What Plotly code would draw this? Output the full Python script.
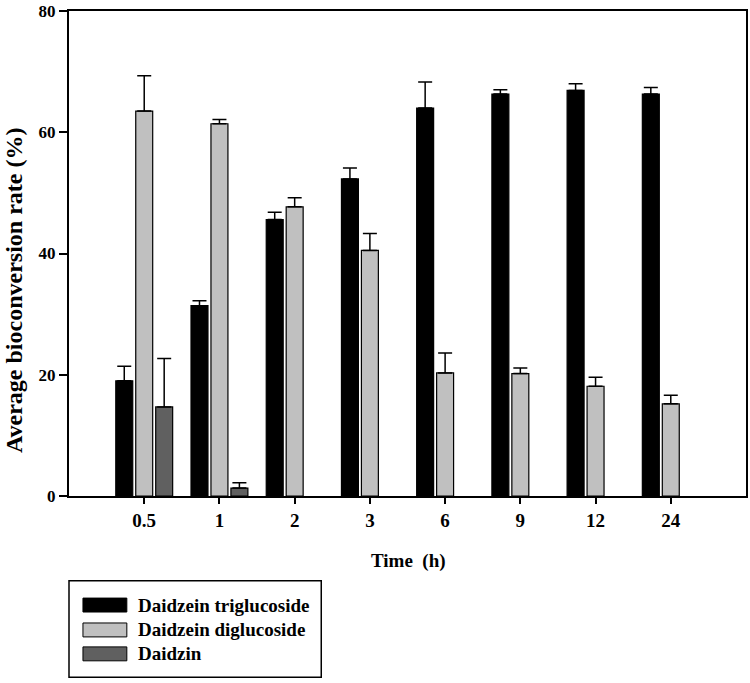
import plotly.graph_objects as go

# ---- data ----
times = ["0.5", "1", "2", "3", "6", "9", "12", "24"]
series_names = ["Daidzein triglucoside", "Daidzein diglucoside", "Daidzin"]
tri_vals = [19.0, 31.4, 45.6, 52.3, 64.0, 66.3, 66.9, 66.3]
tri_err = [2.4, 0.8, 1.2, 1.8, 4.3, 0.7, 1.1, 1.1]
di_vals = [63.5, 61.4, 47.7, 40.5, 20.3, 20.2, 18.1, 15.2]
di_err = [5.8, 0.7, 1.5, 2.8, 3.3, 0.9, 1.5, 1.4]
dz_vals = [14.7, 1.3, None, None, None, None, None, None]
dz_err = [8.0, 0.9, 0, 0, 0, 0, 0, 0]
y_ticks = [0, 20, 40, 60, 80]

colors = ["#000000", "#c0c0c0", "#606060"]
FONT = "Liberation Serif"

# plot area geometry in px
W, H = 750, 683
L, R, T, B = 69, 2, 9, 187
PW = W - L - R
PH = H - T - B


def px_x(px):
    return (px - L) / PW


def px_y(py):
    return (H - B - py) / PH


fig = go.Figure()
for name, vals, errs, col in zip(series_names, [tri_vals, di_vals, dz_vals],
                                 [tri_err, di_err, dz_err], colors):
    fig.add_trace(go.Bar(
        x=times, y=vals, name=name,
        marker=dict(color=col, line=dict(color="black", width=1.2)),
        error_y=dict(type="data", symmetric=False, array=errs,
                     arrayminus=[0] * len(errs), color="black",
                     thickness=1.5, width=7),
        showlegend=False,
        cliponaxis=False,
    ))

fig.update_layout(
    width=W, height=H,
    margin=dict(l=L, r=R, t=T, b=B),
    paper_bgcolor="white", plot_bgcolor="white",
    barmode="group", bargap=0.204, bargroupgap=0.15,
    font=dict(family=FONT, color="black"),
)
fig.update_xaxes(
    type="category", range=[-1, 8],
    showline=True, linecolor="black", linewidth=2, mirror=True,
    ticks="outside", ticklen=6, tickwidth=1.5, tickcolor="black",
    tickfont=dict(family=FONT, size=19, color="black", weight="bold"),
    showgrid=False, zeroline=False,
)
fig.update_yaxes(
    range=[0, 80], tickvals=y_ticks,
    showline=True, linecolor="black", linewidth=2, mirror=True,
    ticks="outside", ticklen=8, tickwidth=1.5, tickcolor="black",
    tickfont=dict(family=FONT, size=17, color="black", weight="bold"),
    ticklabeloverflow="allow",
    showgrid=False, zeroline=False,
)

# axis titles
fig.add_annotation(
    text="Average bioconversion rate (%)", textangle=-90,
    xref="paper", yref="paper", x=px_x(14), y=px_y(290),
    xanchor="center", yanchor="middle", showarrow=False,
    font=dict(family=FONT, size=24, color="black", weight="bold"),
)
fig.add_annotation(
    text="Time\u00a0\u00a0(h)",
    xref="paper", yref="paper", x=px_x(410), y=px_y(561),
    xanchor="center", yanchor="middle", showarrow=False,
    font=dict(family=FONT, size=19, color="black", weight="bold"),
)

# legend box (drawn manually)
fig.add_shape(type="rect", xref="paper", yref="paper",
              x0=px_x(69), x1=px_x(322), y0=px_y(581), y1=px_y(678),
              line=dict(color="black", width=1.5), fillcolor="white")
row_centers = [605.5, 630.5, 654.5]
for name, col, cy in zip(series_names, colors, row_centers):
    fig.add_shape(type="rect", xref="paper", yref="paper",
                  x0=px_x(83), x1=px_x(127), y0=px_y(cy - 7), y1=px_y(cy + 7),
                  line=dict(color="black", width=1), fillcolor=col)
    fig.add_annotation(
        text=name, xref="paper", yref="paper",
        x=px_x(136), y=px_y(cy), xanchor="left", yanchor="middle",
        showarrow=False,
        font=dict(family=FONT, size=19, color="black", weight="bold"),
    )

fig.write_html(
    "out.html",
    config={"displayModeBar": False},
    post_script="document.body.style.margin='0';"
                "document.body.style.overflow='hidden';",
)
